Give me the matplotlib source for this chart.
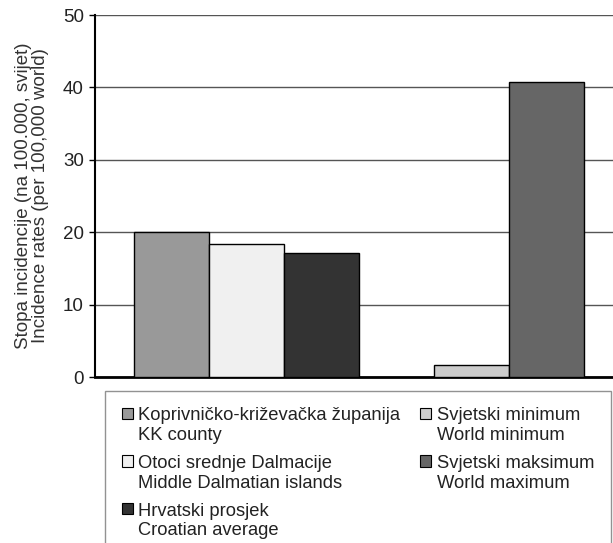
import numpy as np
import matplotlib
matplotlib.use("Agg")
import matplotlib.pyplot as plt
from matplotlib.patches import Patch

plt.rcParams["font.family"] = ["Liberation Sans", "DejaVu Sans"]

#
# Data
#
labels = [
    "Koprivničko-križevačka županija\nKK county",
    "Otoci srednje Dalmacije\nMiddle Dalmatian islands",
    "Hrvatski prosjek\nCroatian average",
    "Svjetski minimum\nWorld minimum",
    "Svjetski maksimum\nWorld maximum",
]
values = [20.0, 18.4, 17.1, 1.6, 40.7]
slots = [0, 1, 2, 4, 5]
colours = ["#999999", "#f0f0f0", "#333333", "#cccccc", "#666666"]
y_ticks = [0, 10, 20, 30, 40, 50]
ylabel = "Stopa incidencije (na 100.000, svijet)\nIncidence rates (per 100,000 world)"

fs = 13.5
leg_fs = 13.2

#
# Plot
#
fig = plt.figure(figsize=(6.13, 5.43), dpi=100)
ax = fig.add_axes([95 / 613, 166 / 543, 528 / 613, 362 / 543])

ax.bar(slots, values, width=1.0, color=colours, edgecolor="black",
       linewidth=1.0, zorder=3)

ax.set_xlim(-1.02, 6.02)
ax.set_ylim(0, 50)
ax.set_yticks(y_ticks)
ax.set_xticks([])
ax.yaxis.grid(True, color="#555555", linewidth=1.0, zorder=0)
ax.set_axisbelow(True)
for s in ["top", "right"]:
    ax.spines[s].set_visible(False)
ax.spines["left"].set_linewidth(1.5)
ax.spines["bottom"].set_linewidth(2.0)
ax.tick_params(axis="y", length=4, width=1, labelsize=fs, labelcolor="#222222",
               pad=4)
ax.set_ylabel(ylabel, fontsize=fs, color="#333333", labelpad=10,
              linespacing=1.0)

handles = [Patch(facecolor=c, edgecolor="black", linewidth=0.8) for c in colours]
leg = fig.legend(
    handles, labels,
    loc="upper left",
    bbox_to_anchor=(105 / 613, 1 - 391 / 543),
    ncol=2,
    fontsize=leg_fs,
    frameon=True,
    fancybox=False,
    edgecolor="#777777",
    handlelength=0.6,
    handleheight=0.6,
    handletextpad=0.3,
    columnspacing=1.1,
    labelspacing=0.6,
    borderpad=0.9,
    borderaxespad=0,
)
leg.get_frame().set_linewidth(1.0)
for t in leg.get_texts():
    t.set_color("#222222")
    t.set_linespacing(1.2)
# put each square next to the first line of its label
for col in leg._legend_handle_box.get_children():
    for row in col.get_children():
        row.align = "top"

fig.savefig("out.png", dpi=100)
